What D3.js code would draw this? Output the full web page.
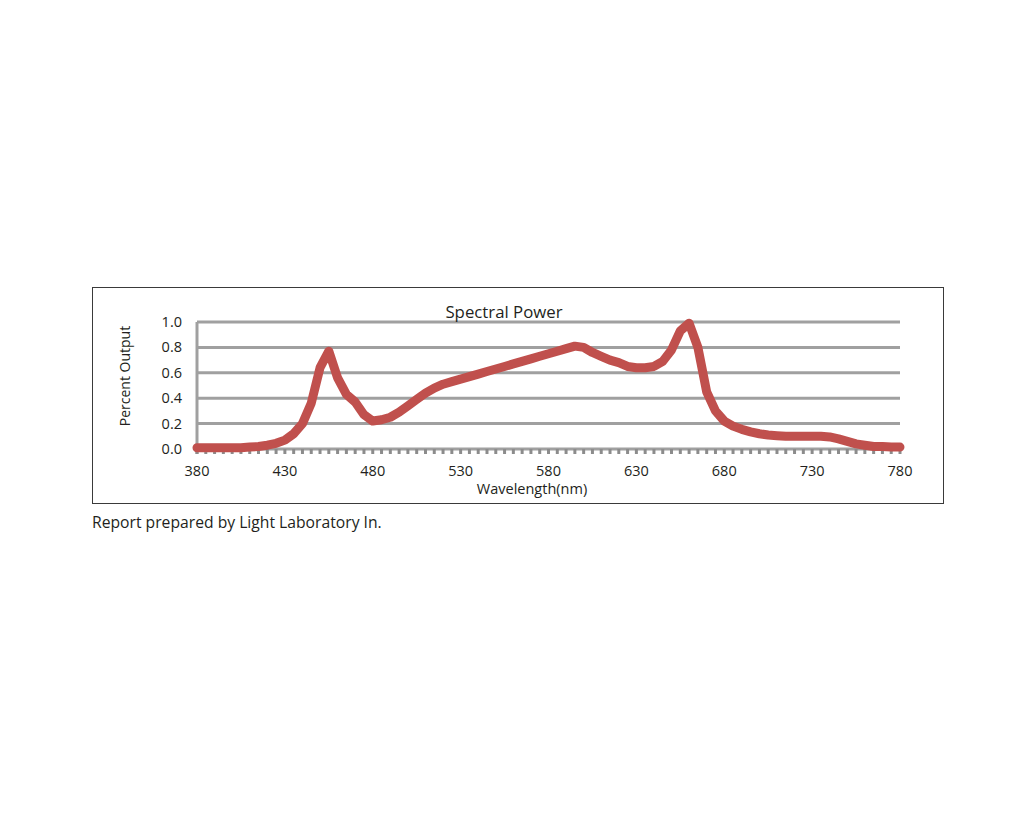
<!DOCTYPE html>
<html>
<head>
<meta charset="utf-8">
<script src="https://cdn.jsdelivr.net/npm/d3@7"></script>
<style>
  body { margin: 0; background: #fff; }
  text { font-family: "Open Sans", sans-serif; fill: #231f20; }
</style>
</head>
<body>
<div id="chart"></div>
<script>
  // wavelength (nm), every 5 nm
  const wavelengths = d3.range(380, 781, 5);
  const output = [
    0.01, 0.01, 0.01, 0.01, 0.01, 0.01, 0.015, 0.02, 0.03, 0.045,
    0.07, 0.12, 0.2, 0.36, 0.64, 0.77, 0.56, 0.43, 0.37, 0.27,
    0.22, 0.23, 0.25, 0.29, 0.34, 0.39, 0.44, 0.48, 0.51, 0.53,
    0.55, 0.57, 0.59, 0.61, 0.63, 0.65, 0.67, 0.69, 0.71, 0.73,
    0.75, 0.77, 0.79, 0.81, 0.80, 0.76, 0.73, 0.70, 0.68, 0.65,
    0.64, 0.64, 0.65, 0.69, 0.78, 0.93, 0.99, 0.80, 0.45, 0.30,
    0.22, 0.18, 0.155, 0.135, 0.12, 0.11, 0.105, 0.1, 0.1, 0.1,
    0.1, 0.1, 0.095, 0.08, 0.06, 0.04, 0.03, 0.02, 0.02, 0.015,
    0.015
  ];
  const xTicks = [380, 430, 480, 530, 580, 630, 680, 730, 780];
  const yTicks = [0, 0.2, 0.4, 0.6, 0.8, 1.0];

  const width = 1024, height = 819;
  const svg = d3.select("#chart").append("svg")
    .attr("width", width)
    .attr("height", height);

  // outer frame
  svg.append("rect")
    .attr("x", 92.5).attr("y", 287.5)
    .attr("width", 851).attr("height", 216)
    .attr("fill", "none")
    .attr("stroke", "#3a3a3a")
    .attr("stroke-width", 1);

  const x = d3.scaleLinear().domain([380, 780]).range([197, 900]);
  const y = d3.scaleLinear().domain([0, 1]).range([449, 322]);

  // gridlines
  svg.append("g")
    .selectAll("line")
    .data(yTicks)
    .join("line")
    .attr("x1", x(380)).attr("x2", x(780))
    .attr("y1", d => y(d)).attr("y2", d => y(d))
    .attr("stroke", "#a0a0a0")
    .attr("stroke-width", 3);

  // y axis line
  svg.append("line")
    .attr("x1", x(380)).attr("x2", x(380))
    .attr("y1", y(1)).attr("y2", y(0) + 5)
    .attr("stroke", "#a0a0a0")
    .attr("stroke-width", 3);

  // minor ticks every 5 nm under the baseline
  svg.append("g")
    .selectAll("line")
    .data(wavelengths)
    .join("line")
    .attr("x1", d => x(d)).attr("x2", d => x(d))
    .attr("y1", y(0)).attr("y2", y(0) + 5)
    .attr("stroke", "#8c8c8c")
    .attr("stroke-width", 3);

  // y tick labels
  svg.append("g")
    .selectAll("text")
    .data(yTicks)
    .join("text")
    .attr("x", 182)
    .attr("y", d => y(d) + 5)
    .attr("text-anchor", "end")
    .style("font-size", "14.5px")
    .text(d => d.toFixed(1));

  // x tick labels
  svg.append("g")
    .selectAll("text")
    .data(xTicks)
    .join("text")
    .attr("x", d => x(d))
    .attr("y", 476)
    .attr("text-anchor", "middle")
    .style("font-size", "14.5px")
    .text(d => d);

  // spectrum line
  const line = d3.line()
    .x((d, i) => x(wavelengths[i]))
    .y(d => y(d));

  svg.append("path")
    .datum(output)
    .attr("d", line)
    .attr("fill", "none")
    .attr("stroke", "#c0504d")
    .attr("stroke-width", 9)
    .attr("stroke-linejoin", "round")
    .attr("stroke-linecap", "round");

  // titles
  svg.append("text")
    .attr("x", 504).attr("y", 318)
    .attr("text-anchor", "middle")
    .style("font-size", "16.8px")
    .text("Spectral Power");

  svg.append("text")
    .attr("x", 532).attr("y", 494)
    .attr("text-anchor", "middle")
    .style("font-size", "14.5px")
    .text("Wavelength(nm)");

  svg.append("text")
    .attr("transform", "translate(130,376) rotate(-90)")
    .attr("text-anchor", "middle")
    .style("font-size", "14px")
    .text("Percent Output");

  svg.append("text")
    .attr("x", 92).attr("y", 528)
    .style("font-size", "15.7px")
    .text("Report prepared by Light Laboratory In.");
</script>
</body>
</html>
